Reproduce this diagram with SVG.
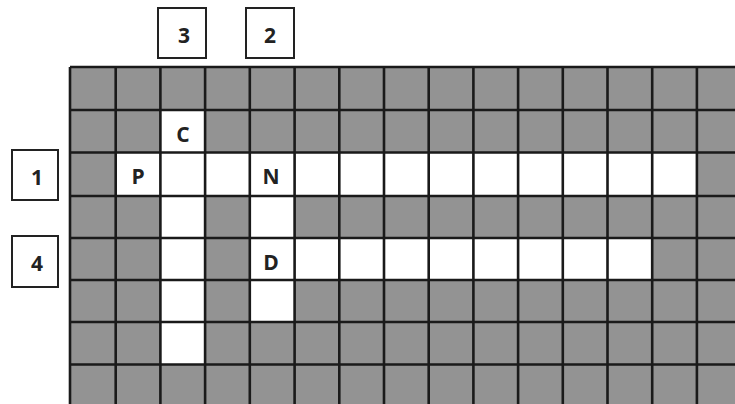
<svg xmlns="http://www.w3.org/2000/svg" width="735" height="404" viewBox="0 0 735 404">
<style>
.g{fill:#939393}
.w{fill:#ffffff}
.ln{stroke:#1a1a1a;stroke-width:2.6;fill:none}
.box{fill:#ffffff;stroke:#222;stroke-width:2}
.t{font-family:"Open Sans","Liberation Sans",sans-serif;font-weight:bold;font-size:21px;text-anchor:middle;fill:#222}
</style>
<rect width="735" height="404" fill="#ffffff"/>
<g id="grid">
<rect class="g" x="70" y="67" width="670" height="340"/>
<rect class="w" x="160" y="110" width="45" height="42"/>
<rect class="w" x="116" y="152" width="580" height="44"/>
<rect class="w" x="160" y="196" width="45" height="168"/>
<rect class="w" x="250" y="196" width="44" height="126"/>
<rect class="w" x="250" y="238" width="402" height="42"/>
<path class="ln" d="M70,67V406M115.7,67V406M160.4,67V406M205.1,67V406M249.8,67V406M294.6,67V406M339.3,67V406M384,67V406M428.7,67V406M473.4,67V406M518.1,67V406M562.8,67V406M607.5,67V406M652.2,67V406M696.9,67V406"/>
<path class="ln" d="M70,67H735M70,110H735M70,152.5H735M70,196H735M70,238H735M70,280H735M70,322H735M70,364.5H735"/>
</g>
<g id="letters">
<text class="t" x="183" y="141.5">C</text>
<text class="t" x="138" y="183.5">P</text>
<text class="t" x="271" y="183.5">N</text>
<text class="t" x="271" y="269.5">D</text>
</g>
<g id="label3"><rect class="box" x="158" y="8" width="48" height="50"/><text class="t" x="184" y="43">3</text></g>
<g id="label2"><rect class="box" x="246" y="8" width="48" height="50"/><text class="t" x="270" y="43">2</text></g>
<g id="label1"><rect class="box" x="12" y="150" width="46" height="50"/><text class="t" x="37" y="185">1</text></g>
<g id="label4"><rect class="box" x="12" y="236" width="46" height="51"/><text class="t" x="37" y="271">4</text></g>
</svg>
